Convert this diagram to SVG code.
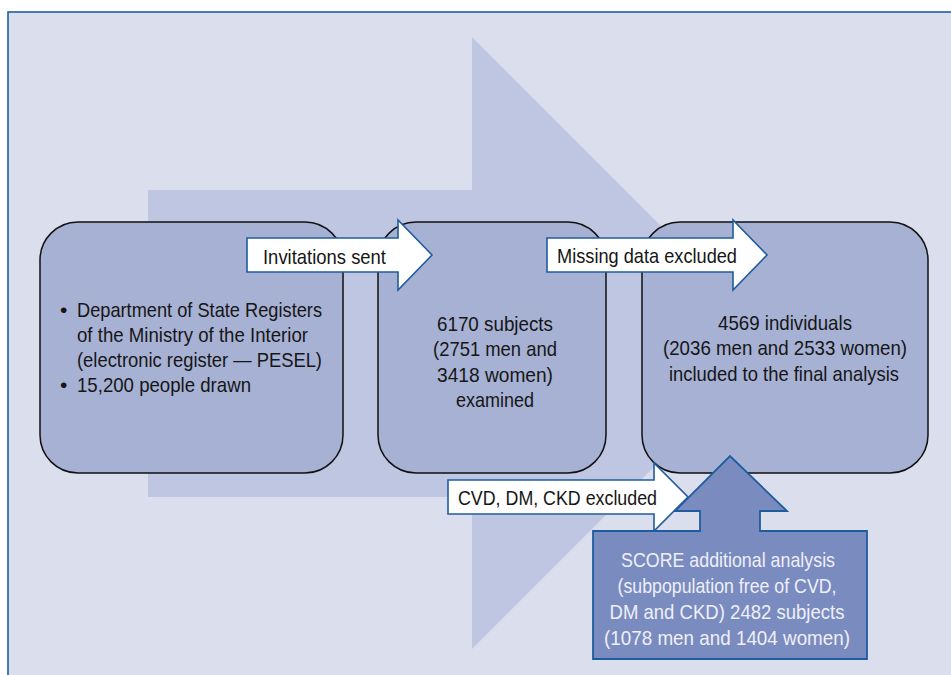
<svg xmlns="http://www.w3.org/2000/svg" width="951" height="675" viewBox="0 0 951 675">
<style>
.frame{fill:#dadeed;stroke:#1f5ea6;stroke-width:1.6}
.bigarrow{fill:#bfc6e1}
.box{fill:#a6b1d4;stroke:#111;stroke-width:1.5}
.conn{fill:#ffffff;stroke:#1f5c9e;stroke-width:1.6;stroke-linejoin:miter}
.score{fill:#7a8bbf;stroke:#1f5c9e;stroke-width:1.8}
text{font-family:"Liberation Sans",Arial,sans-serif;font-size:21px;fill:#161616}
.c{text-anchor:middle}
.w{fill:#eef0f8}
</style>
<rect width="951" height="675" fill="#ffffff"/>
<rect class="frame" x="8" y="12" width="960" height="680"/>
<g id="background-arrow">
<polygon class="bigarrow" points="148,190 472,190 472,37 778,343 472,649 472,497 148,497"/>
</g>
<g id="node-register">
<rect class="box" x="40" y="222" width="303" height="251" rx="38" ry="38"/>
<text x="60" y="317">•</text>
<text x="77" y="317" textLength="245" lengthAdjust="spacingAndGlyphs">Department of State Registers</text>
<text x="77" y="342" textLength="231" lengthAdjust="spacingAndGlyphs">of the Ministry of the Interior</text>
<text x="77" y="367" textLength="245" lengthAdjust="spacingAndGlyphs">(electronic register — PESEL)</text>
<text x="60" y="392">•</text>
<text x="77" y="392" textLength="174" lengthAdjust="spacingAndGlyphs">15,200 people drawn</text>
</g>
<g id="node-examined">
<rect class="box" x="378" y="222" width="228" height="251" rx="38" ry="38"/>
<text class="c" x="495" y="331" textLength="116" lengthAdjust="spacingAndGlyphs">6170 subjects</text>
<text class="c" x="495" y="356" textLength="124" lengthAdjust="spacingAndGlyphs">(2751 men and</text>
<text class="c" x="495" y="382" textLength="116" lengthAdjust="spacingAndGlyphs">3418 women)</text>
<text class="c" x="495" y="407" textLength="78" lengthAdjust="spacingAndGlyphs">examined</text>
</g>
<g id="node-final">
<rect class="box" x="642" y="222" width="286" height="251" rx="38" ry="38"/>
<text class="c" x="785" y="330" textLength="134" lengthAdjust="spacingAndGlyphs">4569 individuals</text>
<text class="c" x="785" y="355" textLength="244" lengthAdjust="spacingAndGlyphs">(2036 men and 2533 women)</text>
<text class="c" x="784" y="381" textLength="230" lengthAdjust="spacingAndGlyphs">included to the final analysis</text>
</g>
<g id="connectors">
<g id="conn-invitations">
<polygon class="conn" points="247,238 398,238 398,220 432,255 398,290 398,272 247,272"/>
<text x="263" y="264" textLength="123" lengthAdjust="spacingAndGlyphs">Invitations sent</text>
</g>
<g id="conn-missing">
<polygon class="conn" points="547,238 733,238 733,220 767,255 733,290 733,272 547,272"/>
<text x="557" y="263" textLength="180" lengthAdjust="spacingAndGlyphs">Missing data excluded</text>
</g>
<g id="conn-cvd">
<polygon class="conn" points="448,480 654,480 654,463 688,497 654,531 654,514 448,514"/>
<text x="458" y="505" textLength="199" lengthAdjust="spacingAndGlyphs">CVD, DM, CKD excluded</text>
</g>
</g>
<g id="node-score">
<polygon class="score" points="593,531 700,531 700,511 675,511 730,456 787,511 760,511 760,531 867,531 867,659 593,659"/>
<text class="c w" x="728" y="567" textLength="214" lengthAdjust="spacingAndGlyphs">SCORE additional analysis</text>
<text class="c w" x="727" y="593" textLength="219" lengthAdjust="spacingAndGlyphs">(subpopulation free of CVD,</text>
<text class="c w" x="727" y="619" textLength="235" lengthAdjust="spacingAndGlyphs">DM and CKD) 2482 subjects</text>
<text class="c w" x="727" y="645" textLength="246" lengthAdjust="spacingAndGlyphs">(1078 men and 1404 women)</text>
</g>
</svg>
